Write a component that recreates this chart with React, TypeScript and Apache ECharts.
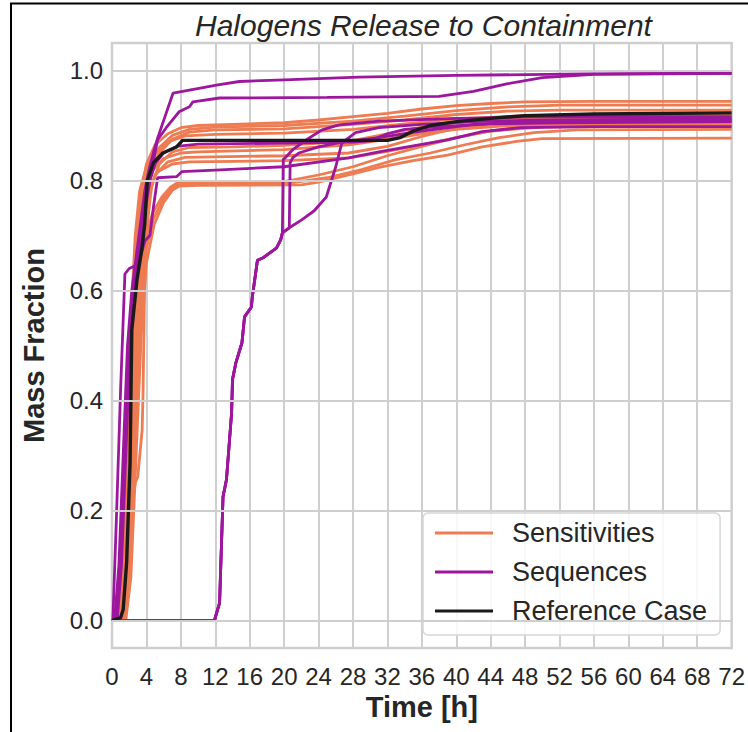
import React, { useEffect, useRef } from "react";
import * as echarts from "echarts";

// Axis ticks
const timeTicks = [0, 4, 8, 12, 16, 20, 24, 28, 32, 36, 40, 44, 48, 52, 56, 60, 64, 68, 72];
const fractionTicks = [0, 0.2, 0.4, 0.6, 0.8, 1.0];

// Sensitivity runs: [time h, mass fraction]
const sens01 = [[0, 0], [0.9, 0], [1.3, 0.06], [1.8, 0.28], [2.3, 0.52], [2.8, 0.68], [3.3, 0.77], [4.0, 0.83], [5.0, 0.865], [6.5, 0.885], [8.0, 0.896], [10, 0.9], [14, 0.902], [20, 0.905], [24, 0.91], [28, 0.916], [32, 0.922], [36, 0.93], [40, 0.936], [44, 0.94], [48, 0.943], [56, 0.944], [72, 0.944]];
const sens02 = [[0, 0], [1.0, 0], [1.5, 0.1], [2.0, 0.33], [2.5, 0.56], [3.0, 0.7], [3.6, 0.78], [4.4, 0.83], [5.5, 0.86], [7, 0.882], [9, 0.893], [12, 0.897], [20, 0.9], [28, 0.908], [34, 0.917], [40, 0.927], [46, 0.934], [52, 0.937], [72, 0.937]];
const sens03 = [[0, 0], [1.1, 0], [1.6, 0.08], [2.1, 0.3], [2.6, 0.52], [3.1, 0.68], [3.7, 0.77], [4.5, 0.82], [5.5, 0.85], [7, 0.875], [9, 0.888], [12, 0.892], [20, 0.894], [28, 0.902], [34, 0.91], [40, 0.92], [46, 0.926], [52, 0.928], [72, 0.928]];
const sens04 = [[0, 0], [0.8, 0], [1.2, 0.07], [1.7, 0.3], [2.2, 0.55], [2.7, 0.7], [3.2, 0.78], [4.0, 0.825], [5.0, 0.85], [6.5, 0.87], [8.5, 0.881], [12, 0.884], [20, 0.886], [28, 0.893], [34, 0.903], [40, 0.912], [48, 0.918], [72, 0.92]];
const sens05 = [[0, 0], [1.2, 0], [1.8, 0.1], [2.3, 0.2], [2.7, 0.25], [3.0, 0.262], [3.5, 0.346], [3.6, 0.406], [3.8, 0.62], [4.1, 0.72], [4.6, 0.79], [5.5, 0.83], [7, 0.852], [9, 0.86], [14, 0.861], [20, 0.864], [27.5, 0.871], [32, 0.885], [36, 0.897], [40, 0.905], [45, 0.911], [50, 0.914], [72, 0.915]];
const sens06 = [[0, 0], [1.0, 0], [1.5, 0.09], [2.0, 0.3], [2.6, 0.55], [3.2, 0.7], [3.9, 0.78], [4.8, 0.82], [6, 0.84], [8, 0.85], [10, 0.852], [20, 0.856], [27.5, 0.865], [32, 0.875], [36, 0.885], [40, 0.893], [46, 0.9], [72, 0.904]];
const sens07 = [[0, 0], [1.3, 0], [1.9, 0.12], [2.5, 0.35], [3.0, 0.55], [3.5, 0.68], [4.1, 0.76], [5.0, 0.81], [6.5, 0.834], [8.5, 0.842], [20, 0.845], [27.5, 0.85], [32, 0.862], [36, 0.88], [40, 0.895], [44, 0.903], [50, 0.908], [72, 0.91]];
const sens08 = [[0, 0], [1.1, 0], [1.7, 0.1], [2.2, 0.32], [2.8, 0.57], [3.4, 0.71], [4.2, 0.78], [5.2, 0.815], [7, 0.83], [9, 0.834], [20, 0.836], [27.5, 0.841], [32, 0.853], [36, 0.865], [40, 0.878], [44, 0.89], [50, 0.897], [72, 0.9]];
const sens09 = [[0, 0], [1.4, 0], [2.0, 0.1], [2.6, 0.35], [3.2, 0.58], [3.8, 0.69], [4.7, 0.74], [5.8, 0.77], [6.8, 0.788], [7.6, 0.796], [10, 0.797], [20, 0.798], [24, 0.81], [28, 0.825], [32, 0.845], [36, 0.862], [40, 0.878], [44, 0.89], [48, 0.898], [52, 0.903], [72, 0.905]];
const sens10 = [[0, 0], [1.5, 0], [2.1, 0.1], [2.7, 0.32], [3.3, 0.55], [3.9, 0.67], [4.8, 0.73], [5.9, 0.765], [6.9, 0.785], [7.7, 0.793], [10, 0.794], [21, 0.796], [25, 0.805], [29, 0.82], [33, 0.838], [37, 0.85], [41, 0.865], [45, 0.878], [49, 0.887], [54, 0.892], [72, 0.893]];
const sens11 = [[0, 0], [1.6, 0], [2.2, 0.08], [2.8, 0.3], [3.4, 0.52], [4.0, 0.65], [4.9, 0.72], [6.0, 0.76], [7.0, 0.782], [7.8, 0.79], [10, 0.791], [22, 0.792], [24, 0.797], [27.5, 0.81], [31, 0.824], [35, 0.836], [39, 0.846], [43, 0.861], [47, 0.871], [50, 0.876], [72, 0.877]];

// Accident sequences
const seqHigh = [[0, 0], [0.3, 0], [0.8, 0.1], [1.3, 0.3], [1.8, 0.5], [2.3, 0.6], [2.8, 0.66], [3.3, 0.72], [3.8, 0.78], [4.3, 0.82], [4.8, 0.85], [5.3, 0.877], [7.1, 0.959], [12.3, 0.974], [14.8, 0.98], [20, 0.983], [28.7, 0.988], [40, 0.991], [55, 0.994], [72, 0.995]];
const seqUpper = [[0, 0], [0.5, 0], [1.0, 0.1], [1.5, 0.3], [2.0, 0.48], [2.5, 0.58], [3.0, 0.64], [3.5, 0.7], [4.0, 0.76], [4.5, 0.81], [5.0, 0.85], [5.3, 0.874], [6.3, 0.896], [7.8, 0.925], [9.0, 0.934], [9.4, 0.943], [12.5, 0.95], [25, 0.951], [38, 0.953], [42, 0.962], [46, 0.976], [50, 0.987], [56, 0.993], [72, 0.995]];
const seqLow = [[0, 0], [0.1, 0], [0.5, 0.18], [1.0, 0.42], [1.5, 0.63], [2.0, 0.64], [2.7, 0.645], [3.3, 0.66], [3.8, 0.69], [4.4, 0.7], [4.8, 0.75], [5.3, 0.805], [7.5, 0.807], [8.1, 0.816], [12, 0.819], [20, 0.825], [27.5, 0.841], [31, 0.852], [39, 0.874], [43, 0.889], [47.5, 0.896], [56, 0.898], [72, 0.898]];
const seqMid = [[0, 0], [0.6, 0], [1.1, 0.1], [1.6, 0.3], [2.1, 0.5], [2.6, 0.62], [3.2, 0.7], [3.8, 0.76], [4.4, 0.8], [5.0, 0.83], [6.0, 0.85], [7.5, 0.862], [10, 0.866], [20, 0.868], [28, 0.87], [30, 0.872], [32, 0.885], [34, 0.893], [38, 0.898], [44, 0.903], [52, 0.905], [72, 0.907]];
const seqDelayed = [[0, 0], [11.9, 0], [12.5, 0.032], [12.9, 0.225], [13.3, 0.256], [13.9, 0.378], [14.0, 0.438], [14.4, 0.469], [15.1, 0.505], [15.4, 0.552], [16.2, 0.57], [16.3, 0.588], [16.9, 0.655], [17.5, 0.659], [19.1, 0.677], [19.6, 0.692], [19.8, 0.705], [20.6, 0.714], [22, 0.728], [23.5, 0.745], [24.9, 0.77], [25.5, 0.8], [26, 0.825], [26.7, 0.868], [28.3, 0.887], [31, 0.896], [36, 0.902], [42, 0.907], [50, 0.91], [72, 0.912]];
const seqDelayedA = [[0, 0], [11.9, 0], [12.5, 0.032], [12.9, 0.225], [13.3, 0.256], [13.9, 0.378], [14.0, 0.438], [14.4, 0.469], [15.1, 0.505], [15.4, 0.552], [16.2, 0.57], [16.3, 0.588], [16.9, 0.655], [17.5, 0.659], [19.1, 0.677], [19.6, 0.692], [19.8, 0.705], [19.9, 0.838], [20.1, 0.841], [21, 0.856], [22.6, 0.874], [24.4, 0.892], [26.4, 0.901], [31, 0.908], [40, 0.913], [50, 0.916], [72, 0.916]];
const seqDelayedB = [[0, 0], [11.9, 0], [12.5, 0.032], [12.9, 0.225], [13.3, 0.256], [13.9, 0.378], [14.0, 0.438], [14.4, 0.469], [15.1, 0.505], [15.4, 0.552], [16.2, 0.57], [16.3, 0.588], [16.9, 0.655], [17.5, 0.659], [19.1, 0.677], [19.6, 0.692], [19.8, 0.705], [20.6, 0.714], [20.7, 0.832], [21, 0.841], [21.7, 0.85], [24, 0.861], [26.4, 0.869], [31, 0.878], [36, 0.89], [42, 0.902], [50, 0.908], [72, 0.91]];

// Reference case
const referenceCase = [[0, 0], [1.0, 0.005], [1.3, 0.02], [1.7, 0.105], [2.1, 0.287], [2.3, 0.528], [2.9, 0.619], [3.5, 0.679], [3.8, 0.72], [4.1, 0.8], [4.8, 0.832], [5.9, 0.85], [7.5, 0.861], [8.2, 0.873], [32, 0.873], [33.5, 0.878], [35, 0.89], [37, 0.9], [40, 0.907], [44, 0.913], [48, 0.918], [56, 0.921], [72, 0.923]];

const sensitivities = [sens01, sens02, sens03, sens04, sens05, sens06, sens07, sens08, sens09, sens10, sens11];
const sequences = [seqHigh, seqUpper, seqLow, seqMid, seqDelayed, seqDelayedA, seqDelayedB];

const ORANGE = "#ee7b51";
const PURPLE = "#9c179e";
const BLACK = "#1a1a1a";
const GRID = "#cfcfcf";
const TEXT = "#262626";
const FONT = "'Liberation Sans', Arial, sans-serif";

export default function App() {
  const ref = useRef<HTMLDivElement>(null);

  useEffect(() => {
    if (!ref.current) return;
    const chart = echarts.init(ref.current, null, { renderer: "svg" });

    const lineSeries = (name: string, data: number[][], color: string, width: number) => ({
      name,
      type: "line",
      data,
      showSymbol: false,
      symbol: "none",
      smooth: false,
      silent: true,
      lineStyle: { color, width },
      itemStyle: { color },
      z: 3,
    });

    const series: any[] = [
      {
        name: "grid",
        type: "line",
        data: [],
        silent: true,
        z: 1,
        markLine: {
          silent: true,
          symbol: "none",
          label: { show: false },
          lineStyle: { color: GRID, width: 2, type: "solid" },
          data: fractionTicks.map((v) => ({ yAxis: v })),
        },
      },
      ...sensitivities.map((d) => lineSeries("Sensitivities", d, ORANGE, 2.8)),
      ...sequences.map((d) => lineSeries("Sequences", d, PURPLE, 2.8)),
      lineSeries("Reference Case", referenceCase, BLACK, 3.4),
    ];

    chart.setOption({
      animation: false,
      backgroundColor: "#ffffff",
      title: {
        text: "Halogens Release to Containment",
        left: 190,
        top: 5,
        textStyle: { fontFamily: FONT, fontSize: 30, fontStyle: "italic", fontWeight: "normal", color: TEXT },
      },
      grid: {
        left: 112,
        top: 43,
        width: 622,
        height: 605,
        show: true,
        borderColor: GRID,
        borderWidth: 2.5,
        backgroundColor: "#ffffff",
      },
      xAxis: {
        type: "value",
        min: 0,
        max: 72,
        interval: 4,
        name: "Time [h]",
        nameLocation: "middle",
        nameGap: 43,
        nameTextStyle: { fontFamily: FONT, fontSize: 29, fontWeight: "bold", color: TEXT },
        axisLine: { show: false },
        axisTick: { show: false },
        axisLabel: { fontFamily: FONT, fontSize: 24, color: TEXT, margin: 16 },
        splitLine: { show: true, lineStyle: { color: GRID, width: 2 } },
      },
      yAxis: {
        type: "value",
        min: -0.05,
        max: 1.05,
        name: "Mass Fraction",
        nameLocation: "middle",
        nameGap: 64,
        nameTextStyle: { fontFamily: FONT, fontSize: 29, fontWeight: "bold", color: TEXT },
        axisLine: { show: false },
        axisTick: { show: false, customValues: fractionTicks },
        axisLabel: {
          fontFamily: FONT,
          fontSize: 24,
          color: TEXT,
          margin: 9,
          customValues: fractionTicks,
          formatter: (v: number) => v.toFixed(1),
        },
        splitLine: { show: false },
      },
      legend: {
        data: [
          { name: "Sensitivities", icon: "rect", itemStyle: { color: ORANGE } },
          { name: "Sequences", icon: "rect", itemStyle: { color: PURPLE } },
          { name: "Reference Case", icon: "rect", itemStyle: { color: BLACK } },
        ],
        orient: "vertical",
        left: 423,
        top: 513,
        padding: [5, 13, 9, 12],
        itemWidth: 58,
        itemHeight: 3,
        itemGap: 9,
        backgroundColor: "rgba(255,255,255,0.85)",
        borderColor: "#d6d6d6",
        borderWidth: 1.5,
        borderRadius: 5,
        selectedMode: false,
        textStyle: { fontFamily: FONT, fontSize: 27, color: TEXT, lineHeight: 30, padding: [0, 0, 0, 14] },
      },
      graphic: [
        { type: "line", shape: { x1: 10, y1: 3.5, x2: 748, y2: 3.5 }, style: { stroke: "#000", lineWidth: 2 }, z: 10 },
        { type: "line", shape: { x1: 11, y1: 3, x2: 11, y2: 732 }, style: { stroke: "#000", lineWidth: 2 }, z: 10 },
      ],
      series,
    });

    return () => chart.dispose();
  }, []);

  return <div ref={ref} style={{ position: "fixed", left: 0, top: 0, width: 748, height: 732 }} />;
}
